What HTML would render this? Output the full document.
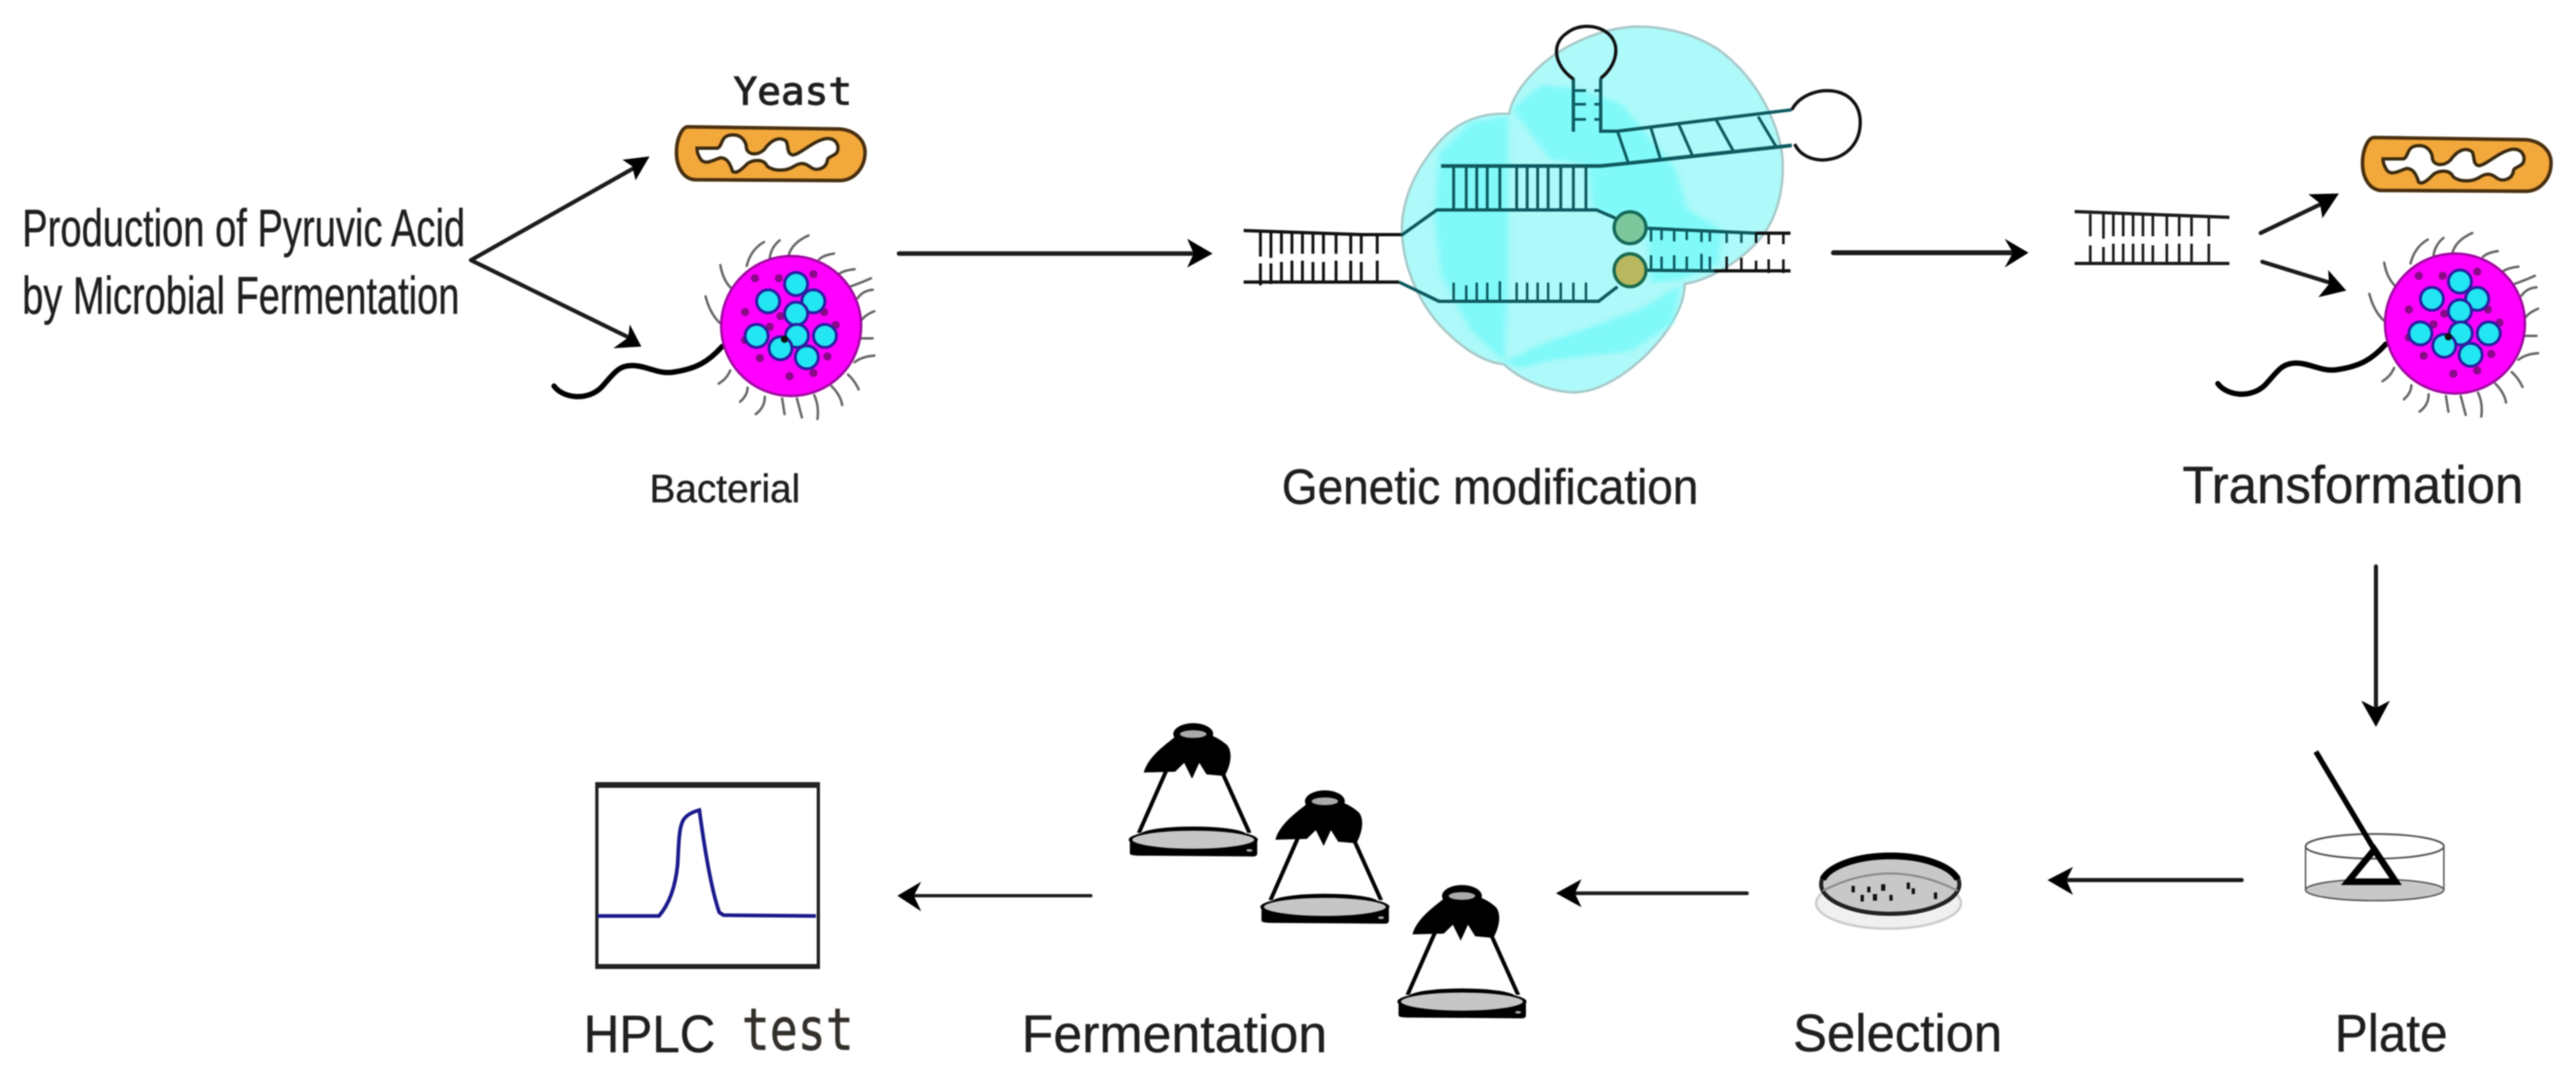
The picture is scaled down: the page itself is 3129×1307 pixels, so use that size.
<!DOCTYPE html>
<html><head><meta charset="utf-8"><style>
html,body{margin:0;padding:0;background:#fff;width:3129px;height:1307px;overflow:hidden}
#w{width:3129px;height:1307px;filter:blur(.9px)}
svg{display:block}
.ns *{vector-effect:non-scaling-stroke}
text{font-family:"Liberation Sans",sans-serif;fill:#1f1f1f;stroke:#1f1f1f;stroke-width:.5}
.m{font-family:"DejaVu Sans Mono","Liberation Mono",monospace}
</style></head><body><div id="w">
<svg width="3129" height="1307" viewBox="0 0 3129 1307" xmlns="http://www.w3.org/2000/svg">
<defs>
<g id="yeast">
<path d="M105,72 L660,80 C720,85 755,125 752,170 C750,225 710,268 660,268 L130,265 C90,260 65,220 65,165 C65,115 85,75 105,72 Z" fill="#F2A83B" stroke="#4a3010" stroke-width="13"/>
<path d="M140,150 L215,150 C235,140 225,105 265,102 C305,98 320,130 320,150 C325,175 360,178 385,155 C410,120 440,105 465,125 C475,145 465,170 490,175 C520,170 560,125 610,115 C650,112 660,145 650,165 C640,180 615,180 615,195 C610,225 575,235 555,220 C535,205 520,200 495,215 C465,235 420,235 395,215 C385,190 350,190 325,205 C305,225 285,245 270,235 C260,205 250,185 225,185 C195,195 165,215 150,185 C140,165 140,160 140,150 Z" fill="#fff" stroke="#3a2a10" stroke-width="12"/>
</g>
<g id="bac">
<g fill="none" stroke="#666" stroke-width="3" stroke-linecap="round">
<path d="M907,323Q912,303 928,294M935,313Q937,300 947,292M958,310Q962,295 982,286M995,315Q1000,310 1013,308M1020,332Q1027,328 1038,327M1033,348Q1047,343 1058,338M1042,362Q1048,353 1060,352M1047,388Q1052,382 1062,378M1047,411H1060M1038,440Q1047,433 1062,432M1030,455Q1038,462 1043,473M888,350Q878,340 875,322M874,392Q862,380 857,360M887,450Q883,460 873,466M1010,469Q1021,480 1023,492M989,480Q995,492 993,509M968,484L974,507M950,484L953,503M929,482Q929,495 918,503M908,471Q908,480 899,488"/>
</g>
<path d="M673,469 C683,483 712,488 730,471 C745,455 750,444 768,444 C785,444 800,455 818,452 C845,448 860,440 877,421" fill="none" stroke="#000" stroke-width="6.500" stroke-linecap="round"/>
<ellipse cx="961" cy="396" rx="85" ry="85" fill="#ff00ff" stroke="#a008a0" stroke-width="3"/>
<g fill="#8a0a8a">
<circle cx="917" cy="338" r="5"/><circle cx="946" cy="338" r="5"/><circle cx="988" cy="333" r="5"/><circle cx="905" cy="379" r="5"/><circle cx="948" cy="384" r="5"/><circle cx="1001" cy="379" r="5"/><circle cx="935" cy="397" r="5"/><circle cx="1015" cy="395" r="5"/><circle cx="905" cy="413" r="5"/><circle cx="923" cy="435" r="5"/><circle cx="1005" cy="433" r="5"/><circle cx="959" cy="457" r="5"/><circle cx="988" cy="453" r="5"/>
</g>
<g fill="#22e6f2" stroke="#2a1ea0" stroke-width="3.500">
<circle cx="933" cy="366" r="14"/><circle cx="967" cy="345" r="14"/><circle cx="988" cy="366" r="14"/><circle cx="967" cy="381" r="14"/><circle cx="919" cy="408" r="14"/><circle cx="968" cy="408" r="14"/><circle cx="1002" cy="408" r="14"/><circle cx="948" cy="423" r="14"/><circle cx="980" cy="434" r="14"/>
</g>
<circle cx="953" cy="412" r="4.500" fill="#111"/>
</g>
<g id="flask">
<path d="M985,505V560Q985,568 1000,568L1190,571Q1196,571 1196,560V505Z" fill="#000"/>
<circle cx="1183" cy="549" r="5" fill="#aaa"/>
<ellipse cx="1090" cy="492" rx="88" ry="30" fill="#000"/>
<path d="M1047,250L1000,485M1135,250L1183,485" stroke="#000" stroke-width="7" fill="none"/>
<ellipse cx="1090" cy="510" rx="104" ry="36" fill="#c6c6c6" stroke="#000" stroke-width="6"/>
<path d="M1060,135C1040,170 1015,210 1008,265L1060,262L1075,230L1088,288L1100,230L1112,272L1142,278C1152,240 1156,190 1146,165C1136,145 1126,135 1120,130Z" fill="#000"/>
<ellipse cx="1090" cy="125" rx="33" ry="40" fill="#000"/>
<ellipse cx="1090" cy="125" rx="22" ry="14" fill="#aaa"/>
</g>
<filter id="bl" x="-10%" y="-10%" width="120%" height="120%"><feGaussianBlur stdDeviation="8"/></filter>
</defs>

<text x="27" y="299" font-size="64" textLength="538" lengthAdjust="spacingAndGlyphs">Production of Pyruvic Acid</text>
<text x="27" y="381" font-size="64" textLength="531" lengthAdjust="spacingAndGlyphs">by Microbial Fermentation</text>
<text class="m" x="891" y="127" font-size="46" style="stroke-width:1.200" textLength="144" lengthAdjust="spacingAndGlyphs">Yeast</text>
<text x="789" y="610" font-size="48" textLength="183" lengthAdjust="spacingAndGlyphs">Bacterial</text>
<text x="1557" y="612" font-size="60" textLength="506" lengthAdjust="spacingAndGlyphs">Genetic modification</text>
<text x="2651" y="611" font-size="64" textLength="414" lengthAdjust="spacingAndGlyphs">Transformation</text>
<text x="709" y="1278" font-size="64" textLength="160" lengthAdjust="spacingAndGlyphs">HPLC</text>
<text class="m" transform="translate(901,1275) scale(1,1.25)" font-size="56" textLength="136" lengthAdjust="spacingAndGlyphs" style="fill:#33302c;stroke:#33302c">test</text>
<text x="1241" y="1278" font-size="64" textLength="371" lengthAdjust="spacingAndGlyphs">Fermentation</text>
<text x="2178" y="1277" font-size="64" textLength="254" lengthAdjust="spacingAndGlyphs">Selection</text>
<text x="2836" y="1277" font-size="64" textLength="137" lengthAdjust="spacingAndGlyphs">Plate</text>

<g transform="translate(800,130) scale(.3333)"><use href="#yeast"/></g>
<g transform="translate(2848,143) scale(.3333)"><use href="#yeast"/></g>
<use href="#bac"/>
<use href="#bac" transform="translate(2021,-3)"/>

<!-- arrows -->
<g fill="none" stroke="#1c1c1c" stroke-width="5" stroke-linecap="round">
<path d="M772,203L572,316M572,316L766,411"/>
<path d="M1092,308H1450" stroke-width="5.500"/>
<path d="M2227,307H2450" stroke-width="6"/>
<path d="M2746,283L2821,247M2748,318L2832,344"/>
<path d="M2886,688V860"/>
<path d="M2723,1069H2505"/>
<path d="M2122,1085H1905" stroke-width="4.500"/>
<path d="M1325,1088H1105" stroke-width="4"/>
</g>
<g fill="#000">
<polygon points="789,190 756,194 768,202 772,219"/>
<polygon points="779,421 765,394 763,410 745,423"/>
<polygon points="1473,308 1442,290 1450,308 1442,325"/>
<polygon points="2464,307 2435,290 2445,307 2435,325"/>
<polygon points="2841,235 2804,236 2818,247 2821,265"/>
<polygon points="2850,353 2828,328 2829,345 2816,361"/>
<polygon points="2886,883 2868,851 2886,860 2903,851"/>
<polygon points="2487,1069 2518,1053 2510,1069 2518,1087"/>
<polygon points="1890,1085 1921,1068 1913,1085 1921,1102"/>
<polygon points="1090,1088 1119,1071 1110,1088 1119,1107"/>
</g>

<!-- CRISPR -->
<g class="ns" transform="translate(1480,0) scale(.5102,.3333)">
<path d="M692,415 C640,410 580,430 530,510 C470,610 440,720 437,820 C435,950 470,1090 530,1190 C580,1270 630,1320 680,1328 C720,1385 790,1430 850,1430 C930,1425 1020,1310 1070,1200 C1095,1140 1110,1090 1110,1035 C1170,1020 1250,950 1300,850 C1340,760 1350,640 1340,540 C1320,400 1270,270 1190,180 C1120,110 1040,95 990,97 C900,105 820,170 770,235 C730,290 700,350 692,415 Z" fill="#aef9f9" stroke="#a9c9c9" stroke-width="3"/>
<g fill="#80f9f9" filter="url(#bl)">
<path d="M690,425L600,445L525,560L515,800L530,1000L600,1200L680,1320L690,1000Z"/>
<path d="M700,395L770,310L860,325L960,380L1090,620L1115,760L1200,840L1190,960L1100,1020L1030,1030L1020,830L890,760L880,600L790,580L720,440Z"/>
<path d="M680,1320L760,1260L1000,1130L1100,1040L1080,1180L980,1280L800,1310L720,1340Z"/>
</g>
<g fill="none" stroke="#0d5a60" stroke-width="3.500">
<path d="M530,605H910L975,595L1365,530" stroke-width="4.500"/>
<path d="M560,605V765M590,605V765M615,605V765M640,605V765M670,605V765M710,605V765M735,605V765M760,605V765M785,605V765M815,605V765M845,605V765M875,605V765"/>
<path d="M435,858L520,765H900L945,795" stroke-width="4"/>
<path d="M430,1028L525,1098H905L950,1045" stroke-width="4"/>
<path d="M560,1098V1030M590,1098V1040M615,1098V1030M640,1098V1030M670,1098V1025M710,1098V1030M735,1098V1030M760,1098V1030M785,1098V1030M815,1098V1030M845,1098V1030M875,1098V1030" stroke-width="3"/>
<path d="M1020,832L1280,850M1020,985L1180,987" stroke-width="4"/>
<path d="M1030,835V880M1055,835V875M1085,838V880M1115,840V875M1150,843V882M1170,845V880M1210,848V885M1245,850V885M1030,985V930M1055,985V935M1085,985V930M1115,985V935M1150,985V925M1170,985V935" stroke-width="3"/>
<path d="M845,285V480M910,285V478H950L1365,400" stroke-width="4"/>
<path d="M845,330H875M845,380H875M845,435H875M895,330H912M895,380H912M895,435H912" stroke-width="3.200"/>
<path d="M950,478L975,590M1030,468L1052,578M1095,450L1128,565M1185,437L1225,548M1285,425L1328,535" stroke-width="3.500"/>
</g>
<g fill="none" stroke="#111">
<path d="M60,840L340,855H435M60,1028H430M1280,850H1362M1180,987H1362" stroke-width="4"/>
<path d="M100,845V935M125,848V940M150,848V925M175,850V925M200,850V925M225,850V925M250,852V925M280,852V925M315,855V925M340,855V925M378,858V925M100,960V1040M125,960V1035M150,955V1030M175,950V1030M200,950V1030M225,955V1030M250,955V1030M280,950V1030M315,950V1030M340,955V1030M378,950V1030" stroke-width="3.500"/>
<path d="M1280,850V885M1310,850V890M1345,850V890M1210,985V935M1245,985V940M1280,985V950M1310,995V945M1345,995V945" stroke-width="3"/>
<path d="M845,288C800,240 790,160 830,120C860,85 905,90 930,125C960,170 945,245 910,285" stroke-width="4"/>
<path d="M1365,400C1400,300 1530,300 1528,450C1525,600 1400,620 1372,525" stroke-width="4"/>
</g>
<ellipse cx="980" cy="830" rx="38" ry="58" fill="#7cc89c" stroke="#156a5a" stroke-width="4"/>
<ellipse cx="980" cy="985" rx="38" ry="60" fill="#b8b860" stroke="#1b6a50" stroke-width="4"/>
</g>

<!-- small dna -->
<g fill="none" stroke="#1c1c1c">
<path d="M2520,257L2708,264M2520,320H2708" stroke-width="4"/>
<path d="M2539,260V287M2555,260V290M2567,260V287M2579,260V287M2591,260V287M2603,260V287M2615,262V287M2632,262V287M2647,262V287M2662,263V287M2683,263V287M2539,298V322M2555,300V320M2567,296V320M2579,296V320M2591,296V320M2603,296V320M2615,298V320M2632,296V320M2647,296V320M2662,296V320M2683,296V320" stroke-width="3.200"/>
</g>

<!-- plate -->
<g fill="none" stroke="#555" stroke-width="1.800">
<ellipse cx="2884.500" cy="1081" rx="84" ry="13" fill="#c8c8c8"/>
<path d="M2800.500,1028V1081M2968.500,1028V1081"/>
<ellipse cx="2884.500" cy="1028" rx="84" ry="15" stroke-width="2.200"/>
</g>
<path d="M2813,913L2884,1032" stroke="#000" stroke-width="6.500" fill="none"/>
<path d="M2884,1032L2852,1071H2910Z" stroke="#000" stroke-width="8" fill="none"/>

<!-- dish -->
<ellipse cx="2294" cy="1097" rx="88" ry="31" fill="#f0f0f0" stroke="#ccc" stroke-width="3"/>
<ellipse cx="2296" cy="1074" rx="84" ry="36" fill="#c8c8c8" stroke="#222" stroke-width="5"/>
<path d="M2214,1068A84,36 0 0 1 2378,1068" fill="none" stroke="#000" stroke-width="8"/>
<path d="M2214,1082Q2296,1040 2378,1082" fill="none" stroke="#888" stroke-width="2.500"/>
<g fill="#111">
<rect x="2249" y="1076" width="4" height="8"/><rect x="2268" y="1077" width="4" height="7"/><rect x="2285" y="1074" width="5" height="8"/><rect x="2316" y="1072" width="4" height="8"/><rect x="2322" y="1079" width="4" height="7"/><rect x="2260" y="1087" width="4" height="8"/><rect x="2275" y="1086" width="5" height="8"/><rect x="2295" y="1087" width="4" height="7"/><rect x="2349" y="1084" width="4" height="8"/>
</g>

<!-- flasks -->
<g class="ns" transform="translate(650,850) scale(.7334,.3333)">
<use href="#flask"/>
<use href="#flask" transform="translate(218,245)"/>
<use href="#flask" transform="translate(445,590)"/>
</g>

<!-- HPLC -->
<rect x="725" y="953" width="269" height="222" fill="#fff" stroke="#222" stroke-width="4"/>
<rect x="723" y="950" width="273" height="7" fill="#222"/>
<rect x="723" y="1171" width="273" height="6" fill="#222"/>
<g class="ns" transform="translate(650,850) scale(.7334,.3333)">
<path d="M103,788H205C220,750 232,690 236,600C238,520 238,470 245,440C250,420 262,408 272,402C278,500 290,680 305,775L312,785L465,788" fill="none" stroke="#1a1a8c" stroke-width="4.500"/>
</g>
</svg>
</div></body></html>
